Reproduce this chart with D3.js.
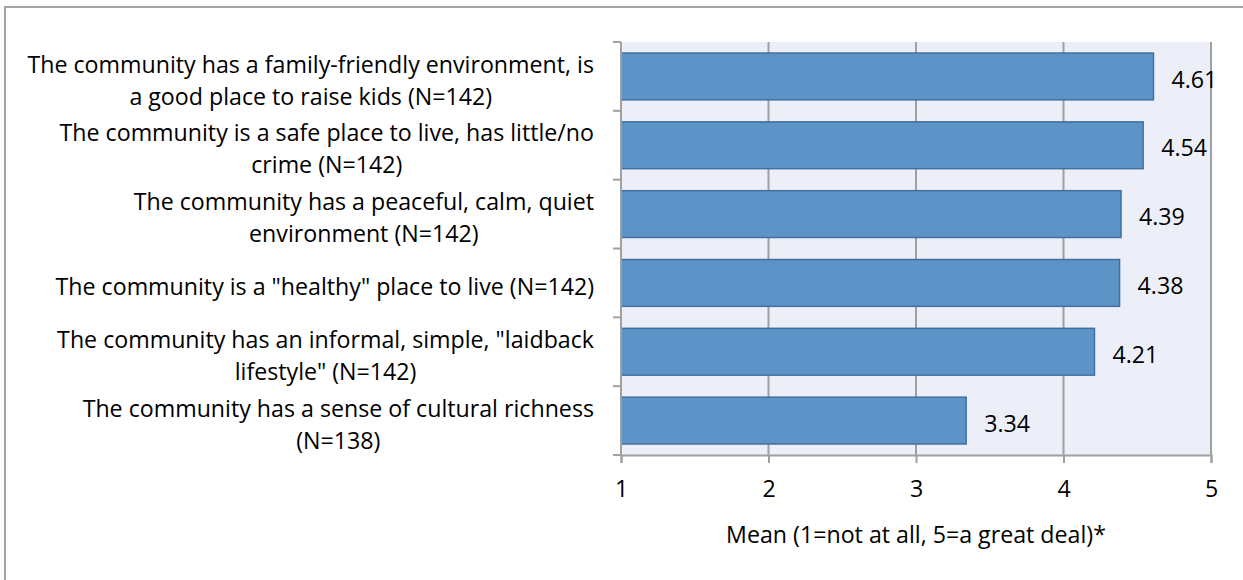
<!DOCTYPE html>
<html>
<head>
<meta charset="utf-8">
<script src="https://cdn.jsdelivr.net/npm/d3@7"></script>
<style>
  body { margin: 0; background: #fff; }
  text { font-family: "Open Sans", "Liberation Sans", sans-serif; fill: #000; }
</style>
</head>
<body>
<svg id="chart" width="1243" height="580"></svg>
<script>
var categories = [
  ['The community has a family-friendly environment, is', 'a good place to raise kids (N=142)'],
  ['The community is a safe place to live, has little/no', 'crime (N=142)'],
  ['The community has a peaceful, calm, quiet', 'environment (N=142)'],
  ['The community is a "healthy" place to live (N=142)'],
  ['The community has an informal, simple, "laidback', 'lifestyle" (N=142)'],
  ['The community has a sense of cultural richness', '(N=138)']
];
var means = [4.61, 4.54, 4.39, 4.38, 4.21, 3.34];
var xTicks = [1, 2, 3, 4, 5];
var xTitle = 'Mean (1=not at all, 5=a great deal)*';

var svg = d3.select('#chart');
var plot = { left: 621, right: 1211, top: 42, bottom: 455 };
var fontSize = 23.2;
var fontFamily = '"Open Sans", "Liberation Sans", sans-serif';

// outer frame (only top/left edges fall inside the picture)
svg.append('rect')
  .attr('x', 5).attr('y', 7)
  .attr('width', 1260).attr('height', 600)
  .attr('fill', 'none')
  .attr('stroke', '#a3a3a3')
  .attr('stroke-width', 2);

var x = d3.scaleLinear().domain([1, 5]).range([plot.left, plot.right]);
var y = d3.scaleBand()
  .domain(d3.range(categories.length))
  .range([plot.top, plot.bottom])
  .paddingInner(0.32)
  .paddingOuter(0.16);

svg.append('rect')
  .attr('x', plot.left).attr('y', plot.top)
  .attr('width', plot.right - plot.left)
  .attr('height', plot.bottom - plot.top)
  .attr('fill', '#eceff7');

// vertical grid lines
svg.append('g').selectAll('line')
  .data(xTicks.slice(1))
  .enter().append('line')
  .attr('x1', function (d) { return x(d); })
  .attr('x2', function (d) { return x(d); })
  .attr('y1', plot.top)
  .attr('y2', plot.bottom)
  .attr('stroke', '#a0a0a0')
  .attr('stroke-width', 2);

// bars
svg.append('g').selectAll('rect')
  .data(means)
  .enter().append('rect')
  .attr('x', x(1))
  .attr('y', function (d, i) { return y(i); })
  .attr('width', function (d) { return x(d) - x(1); })
  .attr('height', y.bandwidth())
  .attr('fill', '#5d94c7')
  .attr('stroke', '#41709f')
  .attr('stroke-width', 1.5);

// value labels
svg.append('g').selectAll('text')
  .data(means)
  .enter().append('text')
  .attr('x', function (d) { return x(d) + 18; })
  .attr('y', function (d, i) { return y(i) + y.bandwidth() / 2 + 3; })
  .attr('dy', '0.35em')
  .style('font-size', fontSize + 'px')
  .text(function (d) { return d.toFixed(2); });

// x axis
var xAxis = svg.append('g')
  .attr('transform', 'translate(0,' + plot.bottom + ')')
  .call(d3.axisBottom(x).tickValues(xTicks).tickSize(8).tickPadding(18).tickFormat(d3.format('d')));
xAxis.select('.domain').attr('stroke', '#a0a0a0').attr('stroke-width', 2);
xAxis.selectAll('.tick line').attr('stroke', '#a0a0a0').attr('stroke-width', 2);
xAxis.selectAll('.tick text')
  .style('font-size', fontSize + 'px')
  .style('font-family', fontFamily)
  .attr('fill', '#000');

// y axis line with ticks at category boundaries
var bounds = d3.range(categories.length + 1).map(function (i) {
  return plot.top + i * (plot.bottom - plot.top) / categories.length;
});
svg.append('line')
  .attr('x1', plot.left).attr('x2', plot.left)
  .attr('y1', plot.top).attr('y2', plot.bottom)
  .attr('stroke', '#a0a0a0').attr('stroke-width', 2);
svg.append('g').selectAll('line')
  .data(bounds)
  .enter().append('line')
  .attr('x1', plot.left - 8).attr('x2', plot.left)
  .attr('y1', function (d) { return d; })
  .attr('y2', function (d) { return d; })
  .attr('stroke', '#a0a0a0').attr('stroke-width', 2);

// category labels: block right-aligned, lines centred inside block
var lineH = 32;
var labels = svg.append('g');
categories.forEach(function (lines, i) {
  var cy = y(i) + y.bandwidth() / 2 + 4;
  var g = labels.append('g');
  var texts = g.selectAll('text')
    .data(lines)
    .enter().append('text')
    .attr('y', function (d, j) { return cy + (j - (lines.length - 1) / 2) * lineH; })
    .attr('dy', '0.35em')
    .attr('text-anchor', 'middle')
    .style('font-size', fontSize + 'px')
    .text(function (d) { return d; });
  var w = d3.max(texts.nodes(), function (n) { return n.getComputedTextLength(); });
  texts.attr('x', 594 - w / 2);
});

svg.append('text')
  .attr('x', (plot.left + plot.right) / 2)
  .attr('y', 535)
  .attr('dy', '0.35em')
  .attr('text-anchor', 'middle')
  .style('font-size', fontSize + 'px')
  .text(xTitle);
</script>
</body>
</html>
